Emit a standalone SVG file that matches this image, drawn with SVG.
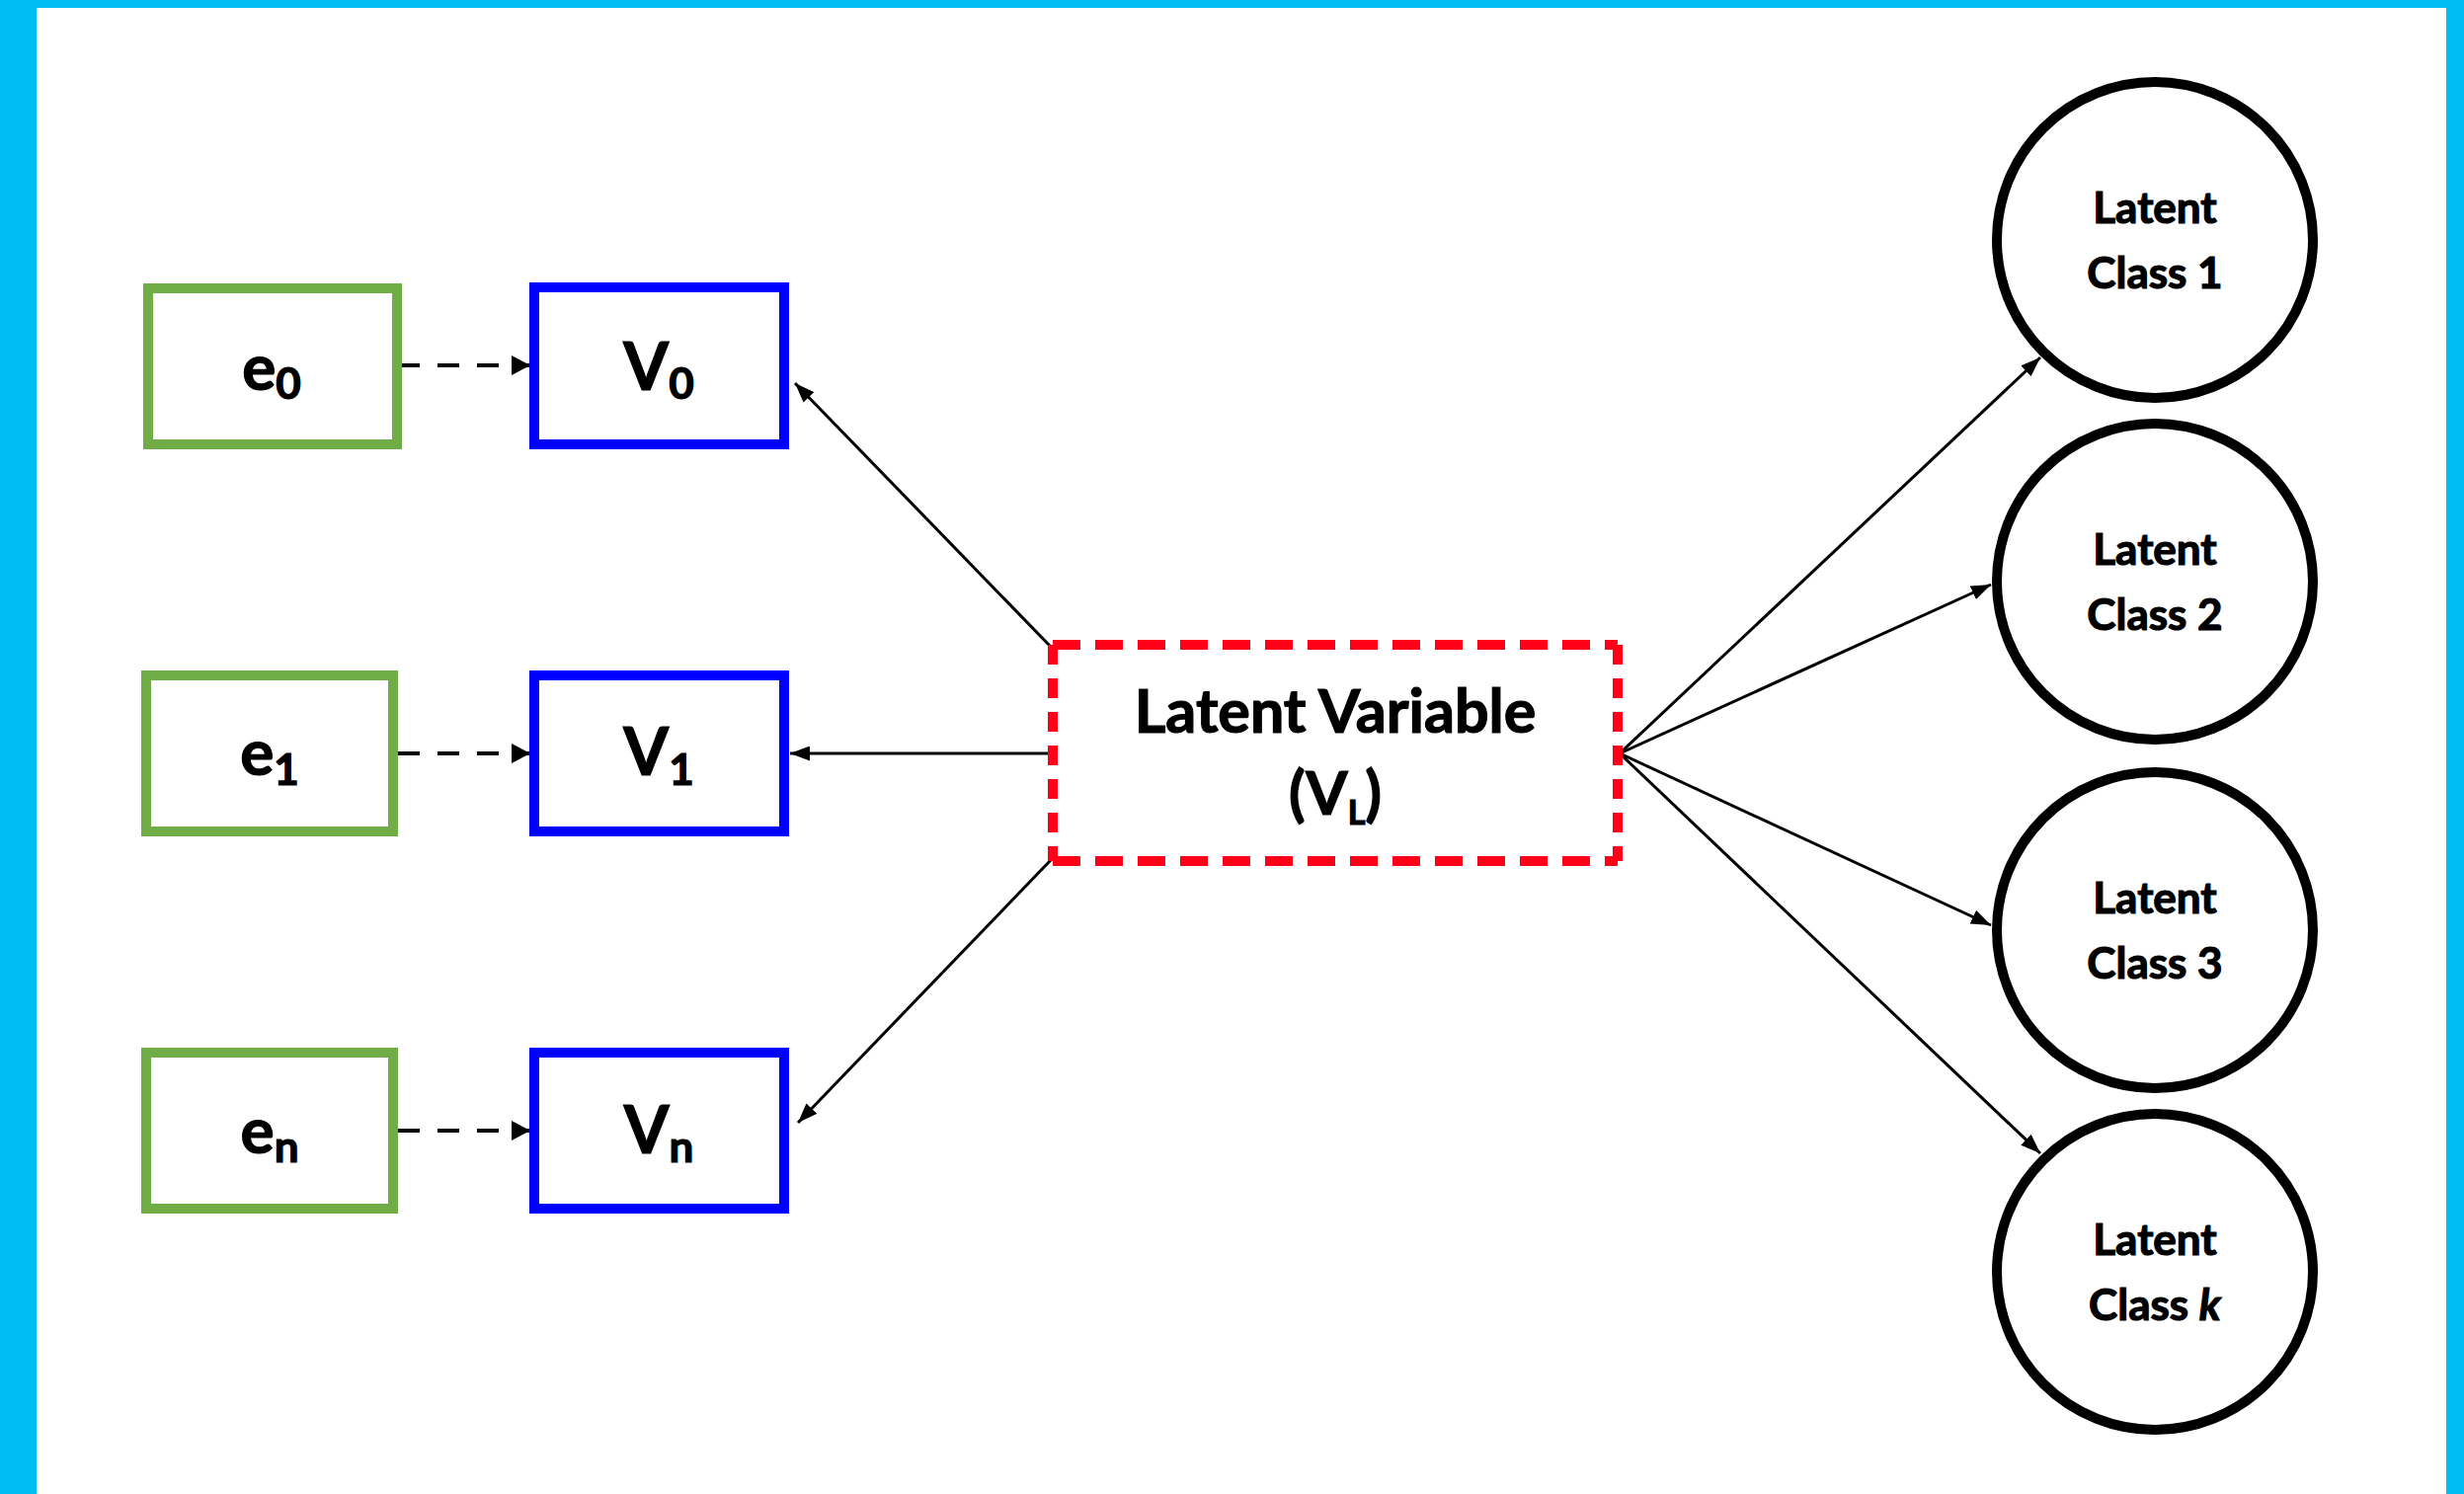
<svg xmlns="http://www.w3.org/2000/svg" width="2495" height="1513" viewBox="0 0 2495 1513">
  <style>
    .lbl { font-family: "Lato", "Carlito", "Liberation Sans", sans-serif; font-weight: 700; fill: #000; stroke: #000; stroke-width: 1.2; text-anchor: middle; }
    .ebox { fill: #fff; stroke: #70AD47; stroke-width: 10; }
    .vbox { fill: #fff; stroke: #0000FF; stroke-width: 10; }
    .lv { fill: none; stroke: #FF0018; stroke-width: 10; }
    .cls { fill: #fff; stroke: #000; stroke-width: 10; }
    .conn { fill: none; stroke: #000; stroke-width: 3; }
    .dash { fill: none; stroke: #000; stroke-width: 4; stroke-dasharray: 22 18; }
  </style>
  <defs>
    <marker id="head" markerUnits="userSpaceOnUse" markerWidth="20" markerHeight="15" refX="20" refY="7.5" orient="auto">
      <path d="M0,0 L20,7.5 L0,15 z" fill="#000"/>
    </marker>
    <marker id="headDash" markerUnits="userSpaceOnUse" markerWidth="19" markerHeight="20" refX="19" refY="10" orient="auto">
      <path d="M0,0 L19,10 L0,20 z" fill="#000"/>
    </marker>
  </defs>

  <!-- frame -->
  <rect x="0" y="0" width="2495" height="1513" fill="#00BEF2"/>
  <rect x="37" y="8" width="2440" height="1505" fill="#fff"/>

  <!-- connectors -->
  <g id="connectors">
    <path class="dash" d="M403,370 H537" marker-end="url(#headDash)"/>
    <path class="dash" d="M403,763 H537" marker-end="url(#headDash)"/>
    <path class="dash" d="M403,1145 H537" marker-end="url(#headDash)"/>

    <path class="conn" d="M1064,655 L805,388" marker-end="url(#head)"/>
    <path class="conn" d="M1062,763 L800,763" marker-end="url(#head)"/>
    <path class="conn" d="M1064,871 L808,1137" marker-end="url(#head)"/>

    <path class="conn" d="M1640,763 L2066,362" marker-end="url(#head)"/>
    <path class="conn" d="M1640,763 L2016,592" marker-end="url(#head)"/>
    <path class="conn" d="M1640,763 L2016,937" marker-end="url(#head)"/>
    <path class="conn" d="M1640,763 L2066,1168" marker-end="url(#head)"/>
  </g>

  <!-- error terms -->
  <g id="e0">
    <rect class="ebox" x="150" y="292" width="252" height="158"/>
    <text class="lbl" x="275" y="395" font-size="64">e<tspan font-size="44" dy="9">0</tspan></text>
  </g>
  <g id="e1">
    <rect class="ebox" x="148" y="684" width="250" height="158"/>
    <text class="lbl" x="273" y="785" font-size="64">e<tspan font-size="44" dy="10">1</tspan></text>
  </g>
  <g id="en">
    <rect class="ebox" x="148" y="1066" width="250" height="158"/>
    <text class="lbl" x="273" y="1168" font-size="64">e<tspan font-size="44" dy="9">n</tspan></text>
  </g>

  <!-- observed variables -->
  <g id="V0">
    <rect class="vbox" x="541" y="291" width="253" height="159"/>
    <text class="lbl" x="667" y="395" font-size="66">V<tspan font-size="44" dy="9">0</tspan></text>
  </g>
  <g id="V1">
    <rect class="vbox" x="541" y="684" width="253" height="158"/>
    <text class="lbl" x="667" y="785" font-size="66">V<tspan font-size="44" dy="10">1</tspan></text>
  </g>
  <g id="Vn">
    <rect class="vbox" x="541" y="1066" width="253" height="158"/>
    <text class="lbl" x="667" y="1168" font-size="66">V<tspan font-size="44" dy="9">n</tspan></text>
  </g>

  <!-- latent variable -->
  <g id="VL">
    <rect x="1066" y="653" width="572" height="219" fill="#fff"/>
    <path class="lv" d="M1066,653 H1638 M1066,872 H1638" stroke-dasharray="28 15"/>
    <path class="lv" d="M1066,653 V872 M1638,653 V872" stroke-dasharray="20 14"/>
    <text class="lbl" x="1352" y="742" font-size="61">Latent Variable</text>
    <text class="lbl" x="1352" y="825" font-size="61">(V<tspan font-size="34" dy="10">L</tspan><tspan dy="-10">)</tspan></text>
  </g>

  <!-- latent classes -->
  <g id="class1">
    <circle class="cls" cx="2182" cy="243" r="160"/>
    <text class="lbl" x="2182" y="226" font-size="44">Latent</text>
    <text class="lbl" x="2182" y="292" font-size="44">Class 1</text>
  </g>
  <g id="class2">
    <circle class="cls" cx="2182" cy="589" r="160"/>
    <text class="lbl" x="2182" y="572" font-size="44">Latent</text>
    <text class="lbl" x="2182" y="638" font-size="44">Class 2</text>
  </g>
  <g id="class3">
    <circle class="cls" cx="2182" cy="942" r="160"/>
    <text class="lbl" x="2182" y="925" font-size="44">Latent</text>
    <text class="lbl" x="2182" y="991" font-size="44">Class 3</text>
  </g>
  <g id="classk">
    <circle class="cls" cx="2182" cy="1288" r="160"/>
    <text class="lbl" x="2182" y="1271" font-size="44">Latent</text>
    <text class="lbl" x="2182" y="1337" font-size="44">Class <tspan font-style="italic">k</tspan></text>
  </g>
</svg>
